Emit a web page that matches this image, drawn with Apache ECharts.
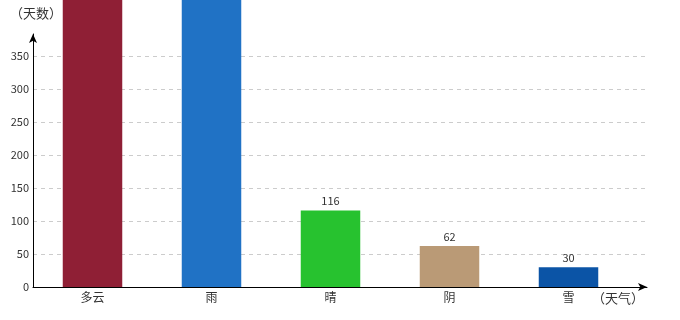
<!DOCTYPE html>
<html><head><meta charset="utf-8">
<script src="https://cdn.jsdelivr.net/npm/echarts@6/dist/echarts.min.js"></script>
<style>html,body{margin:0;padding:0;background:#fff}#c{width:680px;height:320px}</style>
</head><body><div id="c"></div>
<script>
const categories = ['多云', '雨', '晴', '阴', '雪'];
const days = [450, 450, 116, 62, 30];
const colors = ['#8F1F35', '#2072C5', '#27C22F', '#BA9A76', '#0B54A6'];
const yTicks = [0, 50, 100, 150, 200, 250, 300, 350];
const yName = '（天数）';
const xName = '（天气）';

const FONT = '"Noto Sans CJK SC", "DejaVu Sans", sans-serif';
const YMAX = 383.3;
const chart = echarts.init(document.getElementById('c'));
chart.setOption({
  animation: false,
  grid: [
    {left: 33, right: 52, top: 34, bottom: 33},
    {left: 33, right: 33, top: 34, bottom: 33}
  ],
  xAxis: [
    {gridIndex: 0, type: 'category', data: categories,
     axisLine: {show: false}, axisTick: {show: false},
     axisLabel: {color: '#333', fontSize: 12, fontFamily: FONT, margin: 4}},
    {gridIndex: 1, type: 'value', min: 0, max: 1,
     axisLine: {show: true, lineStyle: {color: '#000', width: 1}, symbol: ['none', 'arrow'], symbolSize: [6, 9]},
     axisTick: {show: false}, axisLabel: {show: false}, splitLine: {show: false},
     name: xName, nameLocation: 'end', nameGap: -55,
     nameTextStyle: {color: '#333', fontSize: 13, fontFamily: FONT, verticalAlign: 'top', padding: [5, 0, 0, 0]}}
  ],
  yAxis: [
    {gridIndex: 0, type: 'value', min: 0, max: YMAX, show: false},
    {gridIndex: 1, type: 'value', min: 0, max: YMAX, interval: 50,
     axisLine: {show: true, lineStyle: {color: '#000', width: 1}, symbol: ['none', 'arrow'], symbolSize: [6, 9]},
     axisTick: {show: false},
     axisLabel: {color: '#333', fontSize: 11, fontFamily: FONT, margin: 4, showMaxLabel: false,
       formatter: v => (yTicks.indexOf(v) >= 0 ? String(v) : '')},
     splitLine: {show: true, showMaxLine: false, lineStyle: {color: '#ccc', type: [4, 4]}},
     name: yName, nameLocation: 'end', nameGap: 14,
     nameTextStyle: {color: '#333', fontSize: 13, fontFamily: FONT, padding: [0, 0, 0, 6]}}
  ],
  series: [{
    type: 'bar', xAxisIndex: 0, yAxisIndex: 0, clip: false,
    data: days.map((v, i) => ({value: v, itemStyle: {color: colors[i]}})),
    barWidth: '50%',
    label: {show: true, position: 'top', distance: 4, color: '#333', fontSize: 11, fontFamily: FONT}
  }]
});
</script></body></html>
